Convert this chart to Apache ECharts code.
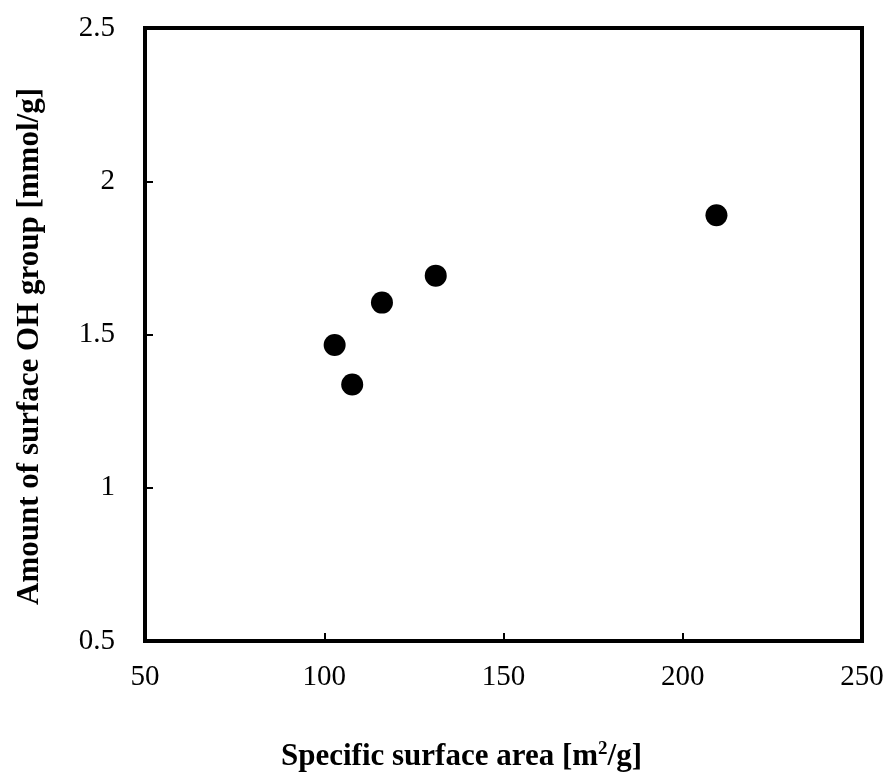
<!DOCTYPE html>
<html>
<head>
<meta charset="utf-8">
<title>Surface OH vs specific surface area</title>
<script src="https://cdn.jsdelivr.net/npm/echarts@6/dist/echarts.min.js"></script>
<style>
  html, body { margin: 0; padding: 0; background: #fff; }
  #chart { width: 893px; height: 778px; }
</style>
</head>
<body>
<div id="chart"></div>
<script type="text/javascript">
  // data
  var surfaceArea = [102.9, 107.8, 116.1, 131.1, 209.4];   // m2/g
  var ohAmount    = [1.466, 1.337, 1.604, 1.692, 1.889];   // mmol/g

  var points = [];
  for (var i = 0; i < surfaceArea.length; i++) {
    points.push([surfaceArea[i], ohAmount[i]]);
  }

  var font = '"Liberation Serif", "Times New Roman", serif';
  var myChart = echarts.init(document.getElementById('chart'));
  myChart.setOption({
    animation: false,
    grid: {
      left: 145, right: 31, top: 28, bottom: 137,
      show: true, borderColor: '#000', borderWidth: 4
    },
    xAxis: {
      type: 'value',
      min: 50, max: 250, interval: 50,
      name: 'Specific surface area [m{sup|2}/g]',
      nameLocation: 'middle',
      nameGap: 99,
      nameTextStyle: {
        fontFamily: font, fontSize: 31, fontWeight: 'bold', color: '#000',
        padding: [0, 84, 0, 0],
        rich: { sup: { fontFamily: font, fontSize: 19, fontWeight: 'bold', color: '#000', verticalAlign: 'top', padding: [0, 0, 14, 0] } }
      },
      axisLine: { show: true, lineStyle: { color: '#000', width: 4 } },
      axisTick: { show: true, inside: true, length: 8, lineStyle: { color: '#000', width: 2 } },
      axisLabel: { fontFamily: font, fontSize: 29, color: '#000', margin: 22 },
      splitLine: { show: false }
    },
    yAxis: {
      type: 'value',
      min: 0.5, max: 2.5, interval: 0.5,
      name: 'Amount of surface OH group [mmol/g]',
      nameLocation: 'middle',
      nameGap: 100,
      nameTextStyle: {
        fontFamily: font, fontSize: 31, fontWeight: 'bold', color: '#000',
        padding: [0, 24, 0, 0]
      },
      axisLine: { show: true, lineStyle: { color: '#000', width: 4 } },
      axisTick: { show: true, inside: true, length: 8, lineStyle: { color: '#000', width: 2 } },
      axisLabel: { fontFamily: font, fontSize: 29, color: '#000', margin: 30 },
      splitLine: { show: false }
    },
    series: [{
      type: 'scatter',
      data: points,
      symbol: 'circle',
      symbolSize: 22,
      itemStyle: { color: '#000', opacity: 1 }
    }]
  });
</script>
</body>
</html>
